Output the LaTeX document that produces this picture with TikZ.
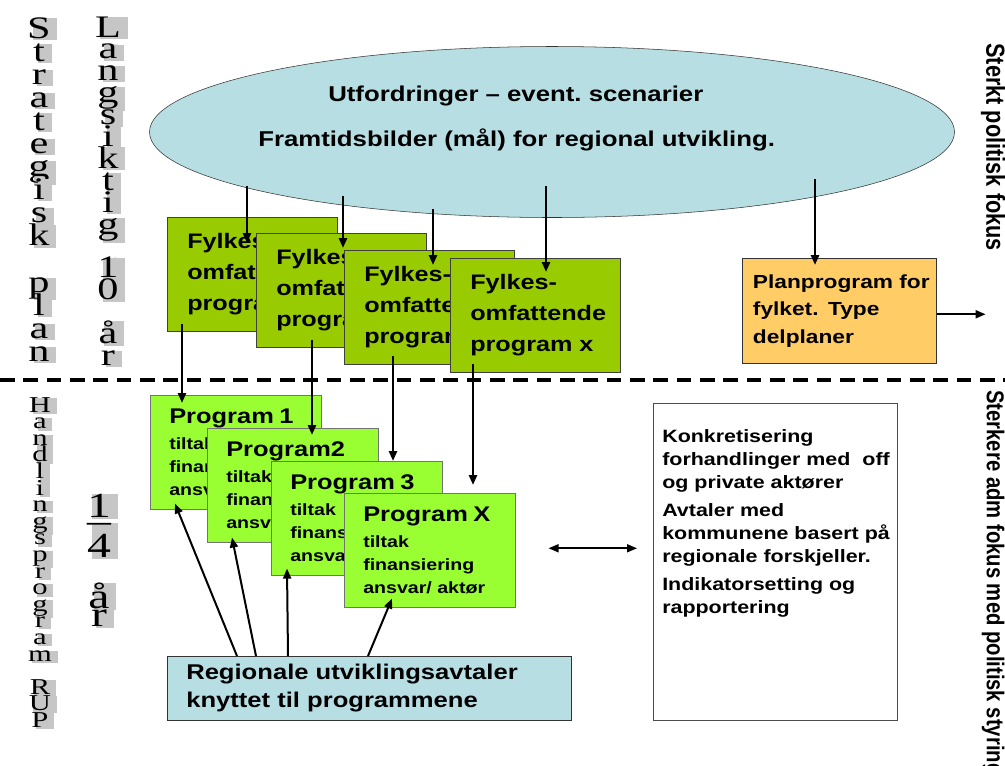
\documentclass[tikz,border=0pt]{standalone}
\usepackage{fontspec}
\usepackage{graphicx}
\setmainfont{Liberation Sans}[FakeStretch=1.2]
\newfontfamily\stackfont{Liberation Serif}[FakeStretch=1.35]
\newfontfamily\sidefont{Liberation Sans}
\usetikzlibrary{arrows.meta, shapes.geometric}

\definecolor{visionblue}{RGB}{183,222,227}
\definecolor{fylkesgreen}{RGB}{153,204,0}
\definecolor{proggreen}{RGB}{153,255,51}
\definecolor{planorange}{RGB}{255,204,102}
\definecolor{shadegray}{RGB}{198,198,198}

\newcommand\stratfont{\stackfont\fontsize{23.5}{23.5}\selectfont}
\newcommand\handlfont{\stackfont\fontsize{17}{17}\selectfont}
\newcommand\yearfont{\stackfont\fontsize{26.5}{26.5}\selectfont}
\newcommand\progtitle[1]{{\fontsize{15.9}{17.25}\selectfont #1}\\[2pt]}

\tikzset{
  vision/.style={ellipse, draw=black!80, fill=visionblue, inner sep=0pt,
    minimum width=603.75pt, minimum height=128.25pt},
  goal/.style={anchor=base west, inner sep=0pt, font=\fontsize{16.1}{20}\selectfont\bfseries},
  fylkes/.style={anchor=north west, draw=black!75, fill=fylkesgreen,
    minimum width=127.5pt, minimum height=85.5pt, inner xsep=15pt,
    text width=97.5pt, align=left, font=\fontsize{15.75}{23.25}\selectfont\bfseries},
  prog/.style={anchor=north west, draw=black!55, fill=proggreen,
    minimum width=128.25pt, minimum height=85.5pt, inner xsep=14.25pt,
    text width=99.75pt, align=left, font=\fontsize{12.25}{17.25}\selectfont\bfseries},
  planbox/.style={anchor=north west, draw=black!80, fill=planorange,
    minimum width=145.5pt, minimum height=78.75pt, inner xsep=8pt,
    text width=129.5pt, align=left, font=\fontsize{14.2}{20.6}\selectfont\bfseries},
  avtalebox/.style={anchor=north west, draw=black!80, fill=visionblue,
    minimum width=303pt, minimum height=48pt, inner xsep=14.25pt,
    text width=274.5pt, align=left, font=\fontsize{16}{21}\selectfont\bfseries},
  notebox/.style={anchor=north west, draw=black!70, fill=white,
    minimum width=183pt, minimum height=237.75pt},
  notetext/.style={anchor=north west, inner sep=0pt, align=left,
    font=\fontsize{13.4}{17.5}\selectfont\bfseries},
  side/.style={rotate=-90, anchor=west, inner sep=0pt, font=\sidefont\bfseries},
  shade/.style={anchor=base, inner sep=0.5pt, fill=shadegray, text=shadegray},
  glyph/.style={anchor=base, inner sep=0.5pt},
  flowarrow/.style={->, line width=2pt},
  tiearrow/.style={->, line width=1.5pt},
  divider/.style={line width=3pt, dash pattern=on 11pt off 6.5pt}
}

\begin{document}
\begin{tikzpicture}[x=0.75pt, y=-0.75pt, >={Triangle[length=7.5pt,width=6pt]}]
  \useasboundingbox (0,0) rectangle (1005,765);

  % long term: goals and county programmes
  \node[vision] (ell) at (552,132) {};
  \node[goal] (chal) at (328,101) {Utfordringer – event.\ scenarier};
  \node[goal] (aim) at (258,146) {Framtidsbilder (mål) for regional utvikling.};

  \node[fylkes] (f1) at (167,217) {Fylkes-\\omfattende\\program};
  \node[fylkes] (f2) at (256,233) {Fylkes-\\omfattende\\program};
  \node[fylkes] (f3) at (344,250) {Fylkes-\\omfattende\\program};
  \node[fylkes] (f4) at (450,258) {Fylkes-\\omfattende\\program x};
  \node[planbox] (plan) at (742,258) {Planprogram~for\\fylket. Type\\delplaner};

  \draw[divider] (0,380) -- (1005,380);

  % four years: action programmes
  \node[prog] (p1) at (150,395) {\progtitle{Program 1}tiltak\\finansiering\\ansvar/ aktør};
  \node[prog] (p2) at (207,428) {\progtitle{Program2}tiltak\\finansiering\\ansvar/ aktør};
  \node[prog] (p3) at (271,461) {\progtitle{Program 3}tiltak\\finansiering\\ansvar/ aktør};
  \node[prog] (p4) at (344,493) {\progtitle{Program X}tiltak\\finansiering\\ansvar/ aktør};
  \node[avtalebox] (rua) at (167,656) {Regionale utviklingsavtaler\\knyttet til programmene};

  \node[notebox] (talks) at (653,403) {};
  \node[notetext] (talktxt) at ([shift={(9,26)}]talks.north west)
    {Konkretisering\\forhandlinger med\ \ off\\og private aktører\\[3pt]
     Avtaler med\\kommunene basert på\\regionale forskjeller.\\[3pt]
     Indikatorsetting og\\rapportering};

  \draw[flowarrow] ([shift={(-305,-32)}]ell.south) -- ([shift={(80,26)}]f1.north west);
  \draw[flowarrow] ([shift={(-209,-22)}]ell.south) -- ([shift={(87,15)}]f2.north west);
  \draw[flowarrow] ([shift={(-119,-9)}]ell.south) -- ([shift={(89,15)}]f3.north west);
  \draw[flowarrow] ([shift={(-6,-32)}]ell.south) -- ([shift={(96,14)}]f4.north west);
  \draw[flowarrow] ([shift={(263,-39)}]ell.south) -- ([shift={(73,7)}]plan.north west);
  \draw[tiearrow] ([shift={(0,3.5)}]plan.east) -- ([shift={(49,3.5)}]plan.east);

  \draw[flowarrow] ([shift={(15,-8)}]f1.south west) -- ([shift={(32,8)}]p1.north west);
  \draw[flowarrow] ([shift={(56,-8)}]f2.south west) -- ([shift={(105,7)}]p2.north west);
  \draw[flowarrow] ([shift={(49,-9)}]f3.south west) -- ([shift={(122,0)}]p3.north west);
  \draw[flowarrow] ([shift={(23,-9)}]f4.south west) -- ([shift={(129,-8)}]p4.north west);

  \draw[tiearrow] ([shift={(70,0)}]rua.north west) -- ([shift={(25,-6)}]p1.south west);
  \draw[tiearrow] ([shift={(89,0)}]rua.north west) -- ([shift={(25,-5)}]p2.south west);
  \draw[tiearrow] ([shift={(121,0)}]rua.north west) -- ([shift={(16,-7)}]p3.south west);
  \draw[tiearrow] ([shift={(201,0)}]rua.north west) -- ([shift={(48,-9)}]p4.south west);
  \draw[tiearrow, <->, line width=1.2pt] ([shift={(33,-2)}]p4.east) -- ([shift={(-16,-13.5)}]talks.west);

  % side labels
  \node[side] (sterkt) at (993,43)
    {\fontsize{16.3}{18}\selectfont\scalebox{1}[1.2]{Sterkt politisk fokus}};
  \node[side] (sterkere) at (993,390)
    {\fontsize{15.2}{18}\selectfont\scalebox{1}[1.2]{Sterkere adm fokus med politisk styring}};

  % stacked titles, letter by letter on a grey shade
  \foreach \ch/\i in {S/0,t/1,r/2,a/3,t/4,e/5,g/6,i/7,s/8,k/9,p/11,l/12,a/13,n/14}{
    \node[shade, font=\stratfont] (strat-s\i) at (45,39+23.1*\i) {\ch};
    \node[glyph, font=\stratfont] (strat-\i) at (39,38+23.1*\i) {\ch};
  }
  \foreach \ch/\i in {L/0,a/1,n/2,g/3,s/4,i/5,k/6,t/7,i/8,g/9,1/11,0/12,å/14,r/15}{
    \node[shade, font=\stratfont] (lang-s\i) at (114,38+21.9*\i) {\ch};
    \node[glyph, font=\stratfont] (lang-\i) at (108,37+21.9*\i) {\ch};
  }
  \foreach \ch/\i in {H/0,a/1,n/2,d/3,l/4,i/5,n/6,g/7,s/8,p/9,r/10,o/11,g/12,r/13,a/14,m/15,R/17,U/18,P/19}{
    \node[shade, font=\handlfont] (handl-s\i) at (45,413+16.6*\i) {\ch};
    \node[glyph, font=\handlfont] (handl-\i) at (40,412+16.6*\i) {\ch};
  }
  \foreach \ch/\y in {1/517,–/532,4/557,å/608,r/626}{
    \node[shade, font=\yearfont] (year-s\y) at (105,\y+1) {\ch};
    \node[glyph, font=\yearfont] (year-\y) at (99,\y) {\ch};
  }
\end{tikzpicture}
\end{document}
